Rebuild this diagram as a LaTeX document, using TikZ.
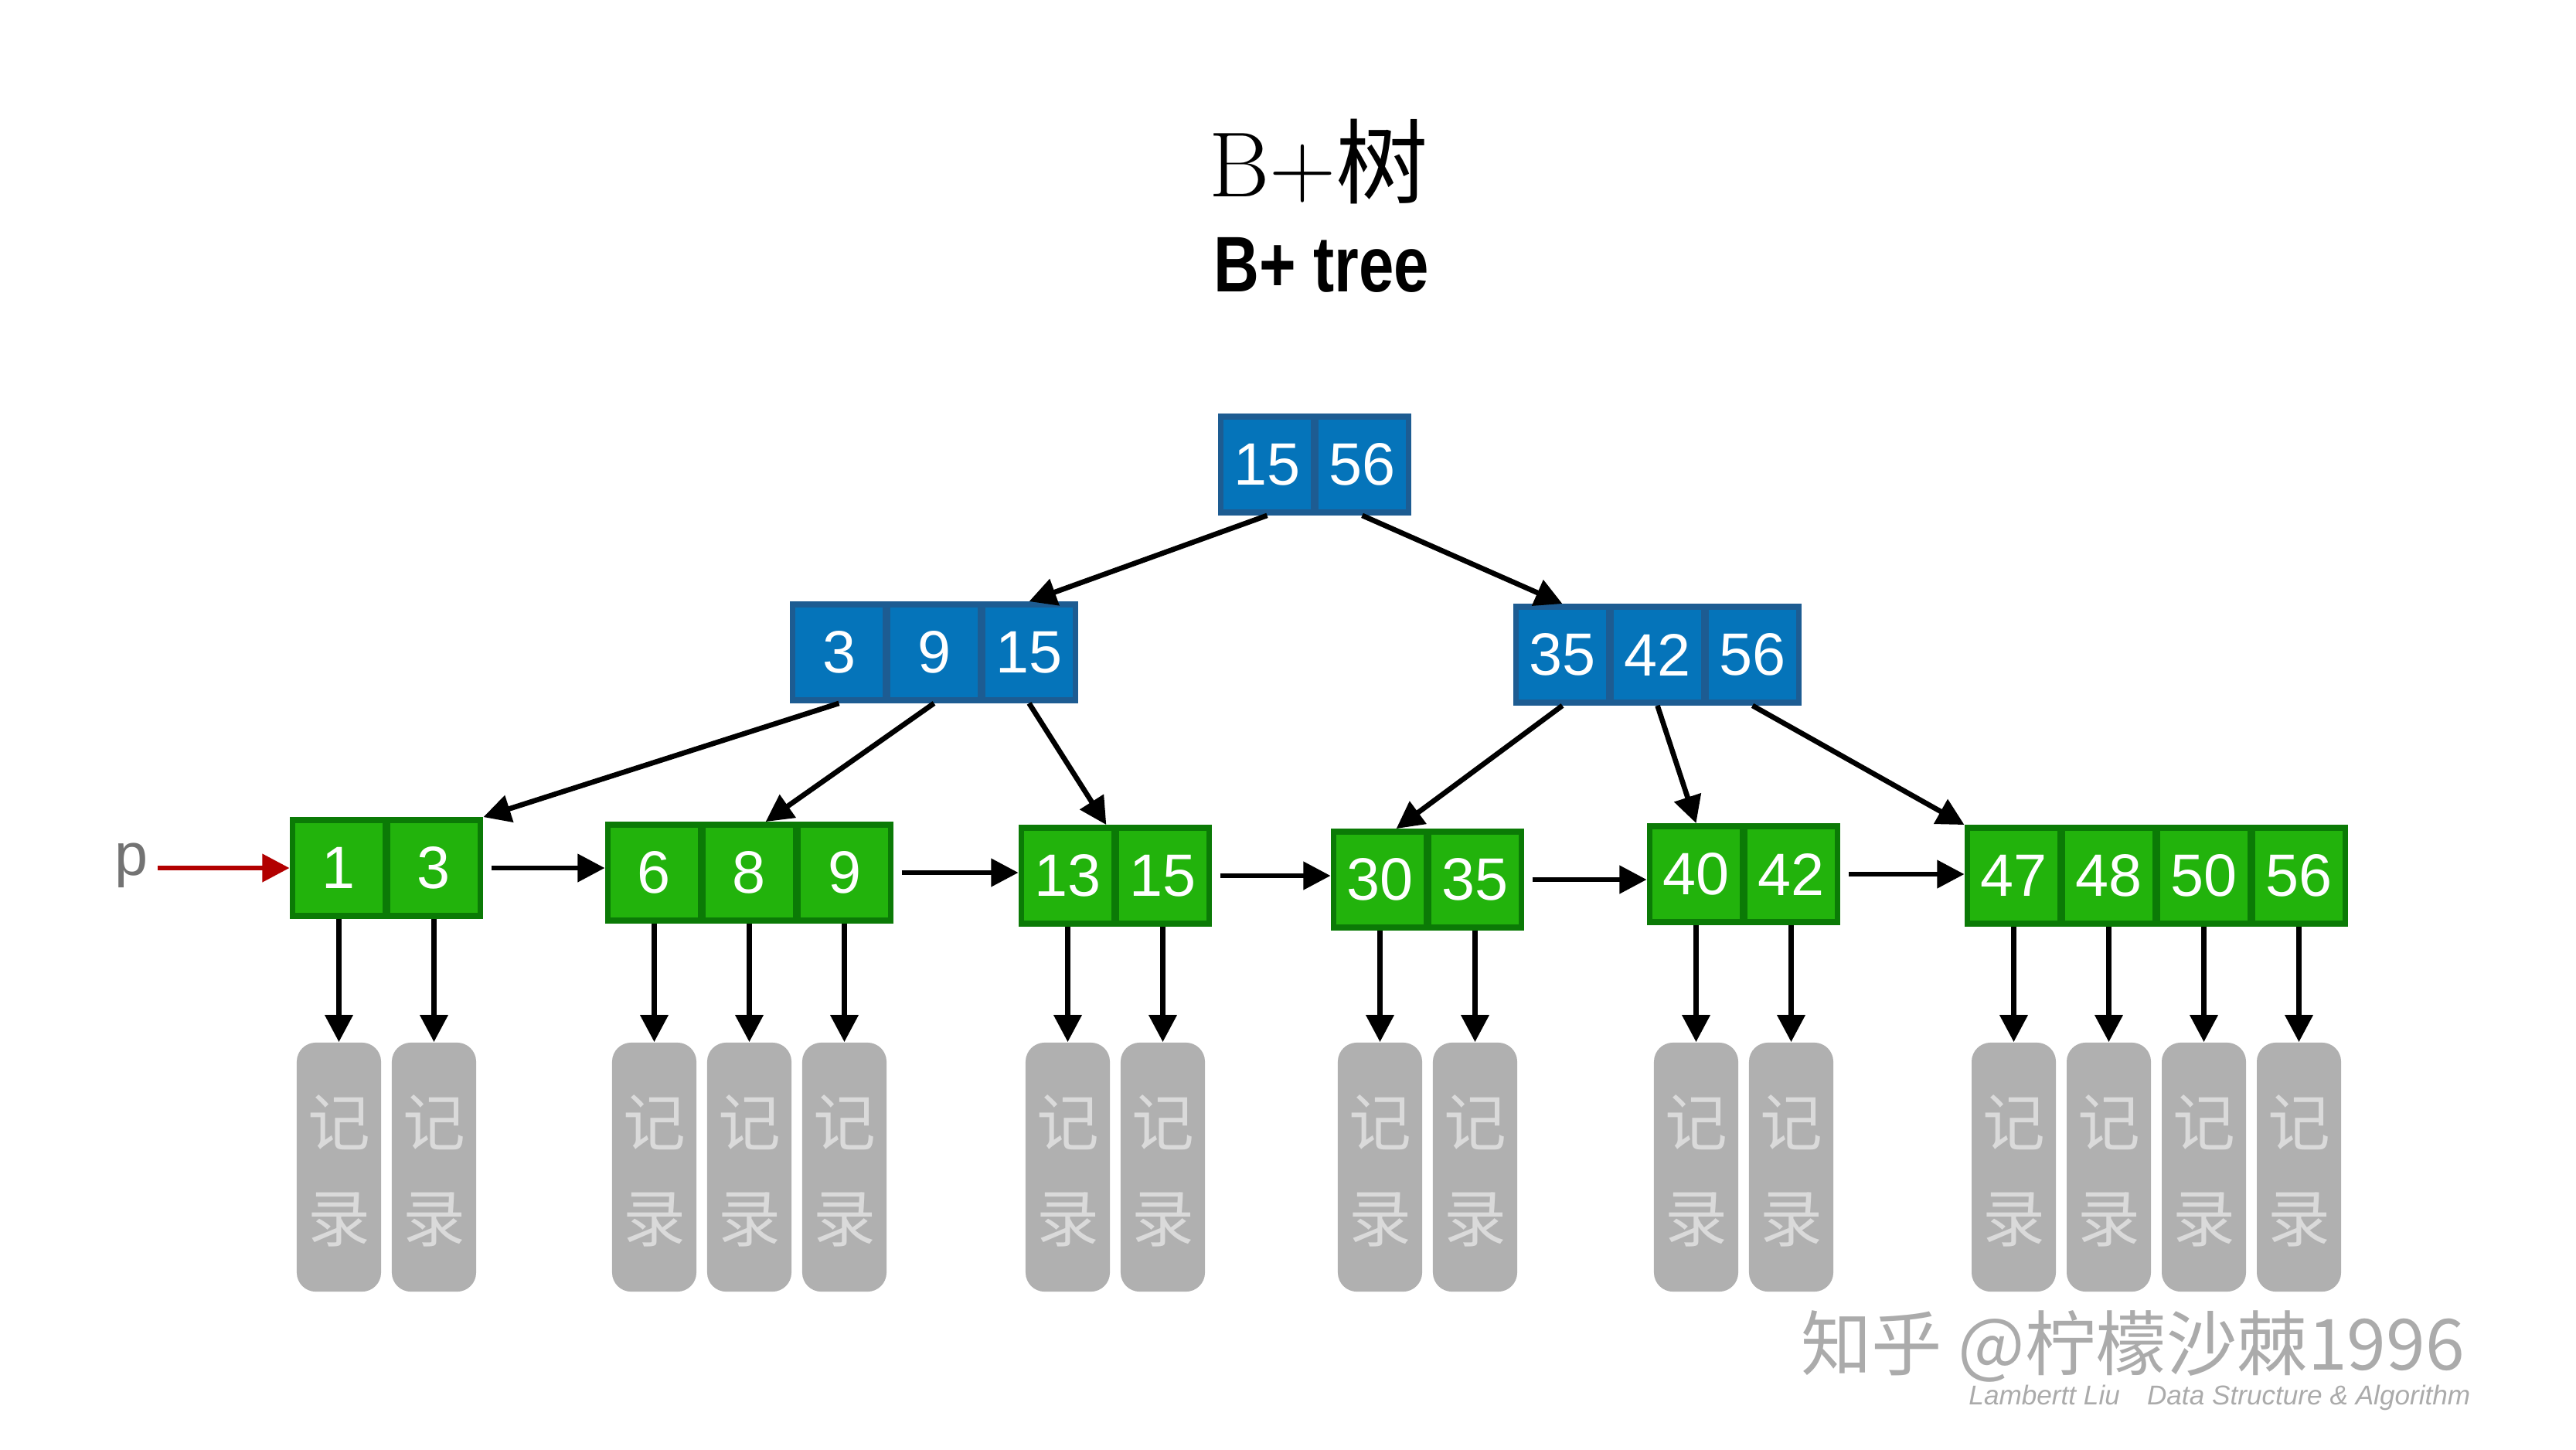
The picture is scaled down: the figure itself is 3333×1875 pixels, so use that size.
\documentclass[tikz,border=0pt]{standalone}
\usepackage{fontspec}
\newfontfamily\num{Liberation Sans}
\newfontfamily\cjk{Noto Sans CJK SC}
\usetikzlibrary{arrows.meta}
\definecolor{bfill}{HTML}{0574BA}
\definecolor{bline}{HTML}{1D5C92}
\definecolor{gfill}{HTML}{22B30C}
\definecolor{gline}{HTML}{0B7A06}
\definecolor{rec}{HTML}{B0B0B0}
\definecolor{rectext}{HTML}{DADADA}
\definecolor{wm}{HTML}{ABABAB}
\tikzset{
 cellb/.style={draw=bline,fill=bfill,line width=2.2pt,minimum width=1.2cm,minimum height=1.24cm,inner sep=0pt,text=white,font=\num\fontsize{22}{22}\selectfont},
 cellg/.style={cellb,draw=gline,fill=gfill},
 recbox/.style={fill=rec,rounded corners=7pt,minimum width=1.09cm,minimum height=3.22cm,inner sep=0pt},
 rectxt/.style={text=rectext,font=\cjk\fontsize{23}{23}\selectfont},
 ar/.style={line width=1.9pt,-{Triangle[length=10pt,width=10pt]}},
}
\newcommand{\noderow}[5]{% style, name, x0, yc, list
 \foreach \v [count=\i] in {#5}{
   \node[#1] (#2-\i) at ({#3+61.5+123*(\i-1)},#4) {\v};
 }}
\newcommand{\leafrow}[4]{%
 \noderow{cellg}{#1}{#2}{#3}{#4}
 \foreach \v [count=\i] in {#4}{
   \node[recbox] (#1r\i) at ({#2+61.5+123*(\i-1)},1510) {};
   \node[rectxt] at ({#2+61.5+123*(\i-1)},1452) {记};
   \node[rectxt] at ({#2+61.5+123*(\i-1)},1578) {录};
   \draw[ar] (#1-\i.south) -- (#1r\i.north);
 }}
\begin{document}
\begin{tikzpicture}[x=0.01cm,y=-0.01cm]
\useasboundingbox[fill=white] (0,0) rectangle (3333,1875);
\node[font=\fontsize{34}{34}\selectfont] (t1) at (1706,209) {B+{\cjk 树}};
\node[font=\num\bfseries\fontsize{29}{29}\selectfont,xscale=0.8] (t2) at (1710,343) {B+ tree};
% internal
\noderow{cellb}{r}{1578}{601}{15,56}
\noderow{cellb}{a}{1024}{844}{3,9,15}
\noderow{cellb}{b}{1960}{847}{35,42,56}
% leaves
\leafrow{l1}{377}{1123}{1,3}
\leafrow{l2}{785}{1129}{6,8,9}
\leafrow{l3}{1320}{1133}{13,15}
\leafrow{l4}{1724}{1138}{30,35}
\leafrow{l5}{2133}{1131}{40,42}
\leafrow{l6}{2544}{1133}{47,48,50,56}
% tree arrows
\draw[ar] (r-1.south) -- (a-3.north);
\draw[ar] (r-2.south) -- (b-1.north);
\draw[ar] (a-1.south) -- (l1-2.north east);
\draw[ar] (a-2.south) -- ([xshift=6pt]l2-2.north);
\draw[ar] (a-3.south) -- ([xshift=-4pt]l3-1.north east);
\draw[ar] (b-1.south) -- ([xshift=6pt]l4-1.north);
\draw[ar] (b-2.south) -- (l5-1.north);
\draw[ar] (b-3.south) -- (l6-1.north west);
% leaf links
\draw[ar] ([xshift=3pt]l1-2.east) -- (l1-2.east -| l2-1.west);
\draw[ar] ([xshift=3pt]l2-3.east) -- (l2-3.east -| l3-1.west);
\draw[ar] ([xshift=3pt]l3-2.east) -- (l3-2.east -| l4-1.west);
\draw[ar] ([xshift=3pt]l4-2.east) -- (l4-2.east -| l5-1.west);
\draw[ar] ([xshift=3pt]l5-2.east) -- (l5-2.east -| l6-1.west);
% pointer p
\node[text=gray!90!black,font=\num\fontsize{22}{22}\selectfont] (p) at (170,1120) {p};
\draw[line width=1.9pt,draw=red!70!black,-{Triangle[length=10pt,width=10pt]}] (p.east |- l1-1.west) -- (l1-1.west);
% watermark
\node[text=wm,font=\cjk\fontsize{26}{26}\selectfont,anchor=west] (w1) at (2318,1742) {知乎 @柠檬沙棘1996};
\node[text=wm,font=\num\itshape\fontsize{10}{10}\selectfont,anchor=west] (w2) at (2535,1808) {Lambertt Liu\quad Data Structure \& Algorithm};
\end{tikzpicture}
\end{document}
